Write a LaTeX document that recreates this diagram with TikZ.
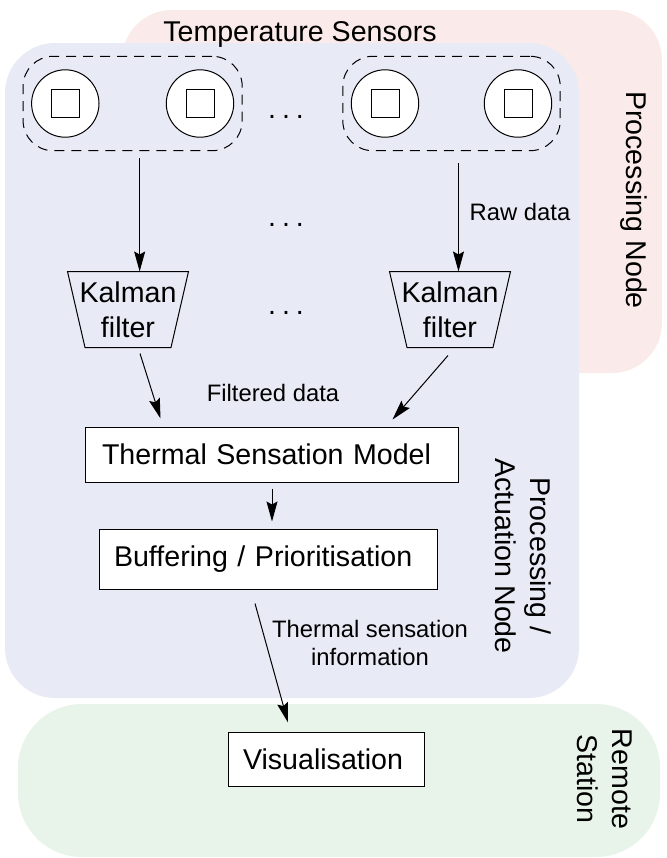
\documentclass[tikz,border=0pt]{standalone}
\usepackage{fontspec}
\setmainfont{Liberation Sans}
\usetikzlibrary{arrows.meta,fit,calc}
\definecolor{pinkbg}{RGB}{250,234,233}
\definecolor{bluebg}{RGB}{232,234,245}
\definecolor{greenbg}{RGB}{232,243,233}
\begin{document}
\begin{tikzpicture}[x=0.5pt,y=-0.5pt,line width=0.5pt,
  every node/.style={font=\fontsize{14.3}{17.5}\selectfont},
  lbl/.style={font=\fontsize{11.9}{14}\selectfont},
  dotsnode/.style={anchor=base, inner sep=0pt},
  box/.style={draw, fill=white, rectangle, inner ysep=0pt, align=left},
  sensor/.style={draw, circle, fill=white, minimum size=33.7pt, inner sep=0pt},
  chip/.style={draw, rectangle, fill=white, minimum size=14pt, inner sep=0pt},
  group/.style={draw, dash pattern=on 5pt off 3.5pt, rounded corners=15pt, inner xsep=4pt, inner ysep=6.5pt},
  kal/.style={minimum width=60pt, minimum height=37.5pt, inner sep=0pt, align=center},
  arr/.style={-{Stealth[length=10pt,width=5.5pt,inset=1.5pt]}}]
\useasboundingbox (0,0) rectangle (666,858);
% regions
\fill[pinkbg, rounded corners=25pt] (122,10) rectangle (662,373);
\fill[bluebg, rounded corners=25pt] (5,43) rectangle (579,698);
\fill[greenbg, rounded corners=32pt] (18,704) rectangle (660,857);
% region labels
\node (tlabel) at (300,34) {Temperature Sensors};
\node[rotate=-90] (pnlabel) at (634,200) {Processing Node};
\node[rotate=-90, align=center] (panlabel) at (523,556) {Processing /\\Actuation Node};
\node[rotate=-90, align=center] (rslabel) at (605,779) {Remote\\Station};
% sensors
\node[sensor] (s1) at (65.3,103.5) {};
\node[sensor] (s2) at (200,103.5) {};
\node[sensor] (s3) at (385,103.5) {};
\node[sensor] (s4) at (518,103.5) {};
\node[chip] (q1) at (s1) {};
\node[chip] (q2) at (s2) {};
\node[chip] (q3) at (s3) {};
\node[chip] (q4) at (s4) {};
\node[group, fit=(s1)(s2)] (g1) {};
\node[group, fit=(s3)(s4)] (g2) {};
\node[dotsnode] (d1) at (286,118) {.\hspace{3pt}.\hspace{3pt}.};
% kalman filters
\node[kal] (kal1) at (128,309.5) {Kalman\\filter};
\node[kal] (kal2) at (450,309.5) {Kalman\\filter};
\draw (kal1.north west) -- (kal1.north east) -- ([xshift=-8.75pt]kal1.south east) -- ([xshift=8.75pt]kal1.south west) -- cycle;
\draw (kal2.north west) -- (kal2.north east) -- ([xshift=-8.75pt]kal2.south east) -- ([xshift=8.75pt]kal2.south west) -- cycle;
\node[dotsnode] (d2) at (286,226) {.\hspace{3pt}.\hspace{3pt}.};
\node[dotsnode] (d3) at (286,314) {.\hspace{3pt}.\hspace{3pt}.};
% sensor -> kalman
\draw[arr, shorten <=3.5pt] ([xshift=3.5pt]g1.south) -- ([xshift=3.5pt]g1.south |- kal1.north);
\draw[arr, shorten <=6pt] ([xshift=3.5pt]g2.south) -- ([xshift=3.5pt]g2.south |- kal2.north);
\node[lbl] (raw) at (520,212) {Raw data};
% boxes
\node[box, text width=169.5pt, inner xsep=8.5pt, minimum height=27.5pt] (tsm) at (271.5,454.5) {Thermal Sensation Model};
\node[box, text width=154pt, inner xsep=7.5pt, minimum height=30pt] (buf) at (268,559) {Buffering / Prioritisation};
\node[box, text width=83pt, inner xsep=7.5pt, minimum height=27pt] (vis) at (326,759) {Visualisation};
% kalman -> tsm
\draw[arr] ([shift={(6pt,-3pt)}]kal1.south) -- ([shift={(-55.5pt,4pt)}]tsm.north);
\draw[arr] ([shift={(-1pt,-4pt)}]kal2.south) -- ([shift={(60.5pt,3.5pt)}]tsm.north);
\node[lbl] (filt) at (273,393) {Filtered data};
% tsm -> buf
\draw[arr, shorten <=3pt, shorten >=3.5pt] ([xshift=0.25pt]tsm.south) -- ([xshift=0.25pt]tsm.south |- buf.north);
% buf -> vis
\draw[arr] ([shift={(-6.5pt,-7pt)}]buf.south) -- ([shift={(-19pt,4.5pt)}]vis.north);
\node[lbl, align=center] (tsi) at (370,643) {Thermal sensation\\information};
\end{tikzpicture}
\end{document}
